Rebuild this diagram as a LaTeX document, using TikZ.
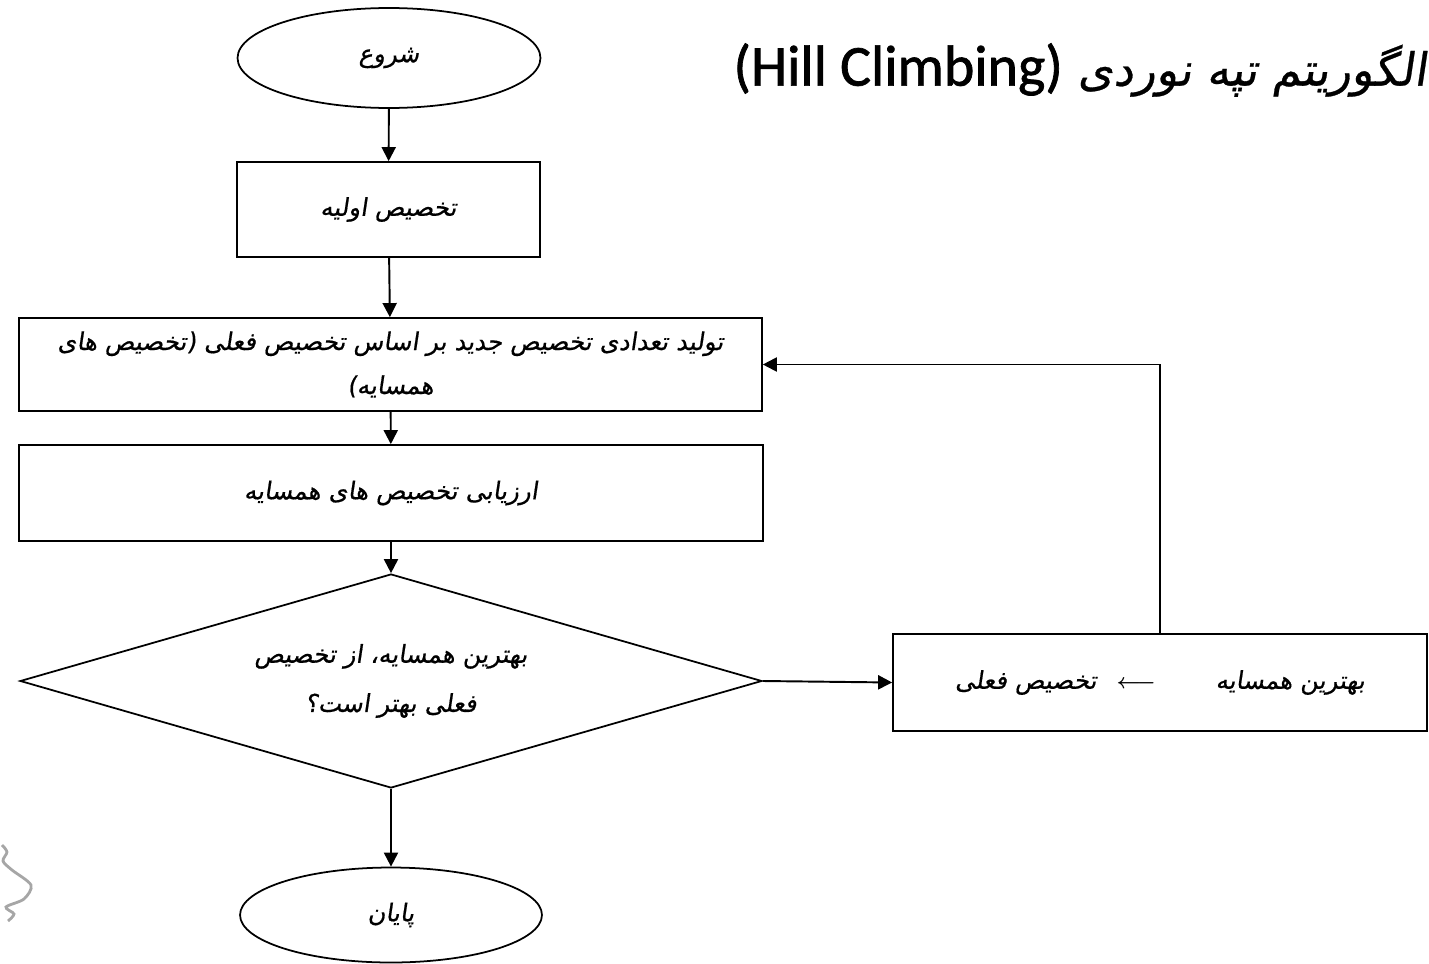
\documentclass[tikz,border=0pt]{standalone}
\usepackage{fontspec}
\usepackage{tikz}
\usetikzlibrary{shapes, arrows.meta, positioning, calc}
\newfontfamily\farsi[Script=Arabic,FakeSlant=0.15,FakeBold=0.6]{DejaVu Sans}
\newfontfamily\latintitle[FakeBold=1.2]{Carlito}
\TeXXeTstate=1

\begin{document}
\begin{tikzpicture}[x=0.02cm, y=-0.02cm,
    terminal/.style={draw, ellipse, line width=1pt, inner sep=0pt, font=\farsi\fontsize{14}{24}\selectfont},
    procbox/.style={draw, rectangle, line width=1pt, inner sep=0pt, align=center, font=\farsi\fontsize{14}{25}\selectfont},
    decision/.style={draw, diamond, aspect=3.47, line width=1pt, inner sep=0pt, align=center, font=\farsi\fontsize{14}{28}\selectfont},
    arr/.style={-{Triangle[length=8pt,width=8pt]}, line width=1.1pt}]
  \useasboundingbox (0,0) rectangle (1429,963);

  % Title
  \node (title) at (1080,70) {\farsi\fontsize{26}{30}\selectfont\beginR الگوریتم تپه نوردی \beginL{\latintitle\fontsize{33}{40}\selectfont(Hill Climbing)}\endL\endR};

  % Main column
  \node[terminal, minimum width=6.06cm, minimum height=2cm] (start) at (389,58) {\beginR شروع\endR};
  \node[procbox, minimum width=6.06cm, minimum height=1.9cm] (init) at (388.5,209.5) {\beginR تخصیص اولیه\endR};
  \node[procbox, minimum width=14.86cm, minimum height=1.86cm] (gen) at (390.5,364.5)
    {\beginR تولید تعدادی تخصیص جدید بر اساس تخصیص فعلی (تخصیص های\endR\\\beginR همسایه)\endR};
  \node[procbox, minimum width=14.88cm, minimum height=1.92cm] (eval) at (391,493) {\beginR ارزیابی تخصیص های همسایه\endR};
  \node[decision, minimum width=14.84cm, minimum height=4.28cm] (decide) at (391,681)
    {\beginR بهترین همسایه، از تخصیص\endR\\\beginR فعلی بهتر است؟\endR};
  \node[terminal, minimum width=6.04cm, minimum height=1.9cm] (finish) at (391,915) {\beginR پایان\endR};

  % Update box
  \node[procbox, minimum width=10.68cm, minimum height=1.94cm] (update) at (1160,682.5)
    {\beginR تخصیص فعلی\endR\hspace{0.4cm}{\large\boldmath$\longleftarrow$}\hspace{1.2cm}\beginR بهترین همسایه\endR};

  % Connectors
  \draw[arr] (start) -- (init);
  \draw[arr] (init) -- (gen);
  \draw[arr] (gen) -- (eval);
  \draw[arr] (eval) -- (decide);
  \draw[arr] (decide) -- (finish);
  \draw[arr] (decide.east) -- (update.west);
  \draw[arr] (update.north) |- (gen.east);

  % Gray mark at the left edge
  \draw[gray!70, line width=1.6pt] plot[smooth] coordinates {(2,845) (7,852) (3,861) (12,870) (31,885) (24,899) (6,907) (14,914) (8,921)};
\end{tikzpicture}
\end{document}
